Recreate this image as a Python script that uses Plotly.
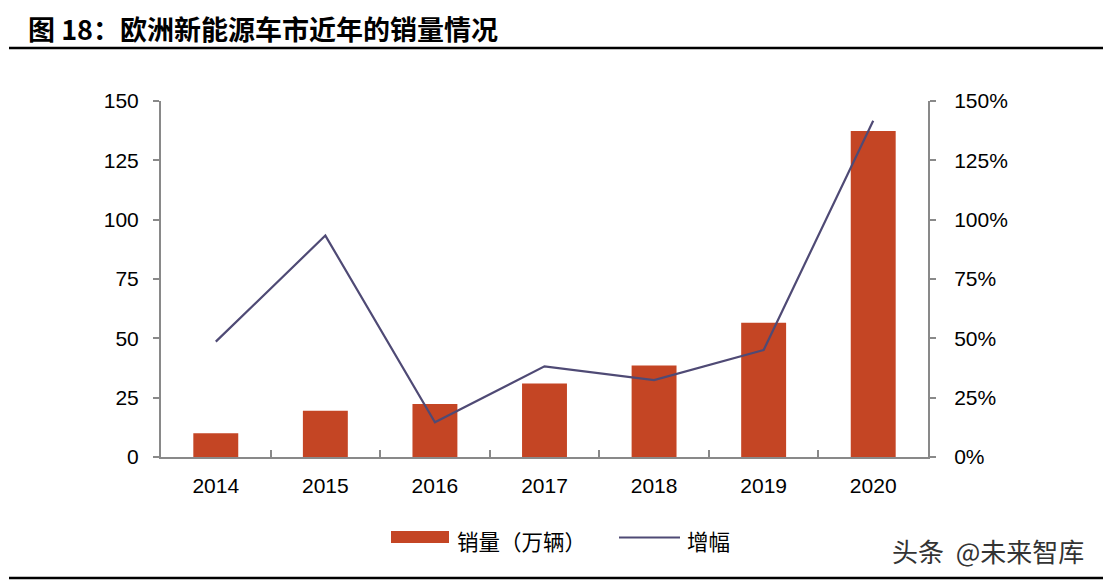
import plotly.graph_objects as go

years = ["2014", "2015", "2016", "2017", "2018", "2019", "2020"]
sales = [10.0, 19.5, 22.3, 31.0, 38.6, 56.6, 137.4]          # 销量（万辆）
growth = [0.486, 0.933, 0.146, 0.382, 0.324, 0.451, 1.417]   # 增幅

title_text = "图 18：欧洲新能源车市近年的销量情况"
bar_name = "销量（万辆）"
line_name = "增幅"
watermark = "头条&nbsp;&nbsp;@未来智库"

BAR_COLOR = "#c44524"
LINE_COLOR = "#4f4a75"
AXIS_COLOR = "#898989"
NUM_FONT = "Liberation Sans, Arial, sans-serif"
CJK_FONT = "Noto Sans CJK SC, sans-serif"

W, H = 1103, 582
L, R, T, B = 161, 175, 101, 125
PW, PH = W - L - R, H - T - B


def px(x):
    return (x - L) / PW


def py(y):
    return (H - B - y) / PH


fig = go.Figure()
fig.add_trace(go.Bar(x=years, y=sales, name=bar_name, marker=dict(color=BAR_COLOR, line=dict(width=0)),
                     yaxis="y", showlegend=False))
fig.add_trace(go.Scatter(x=years, y=growth, name=line_name, mode="lines",
                         line=dict(color=LINE_COLOR, width=2.2), yaxis="y2", showlegend=False))

fig.update_layout(
    width=W, height=H,
    margin=dict(l=L, r=R, t=T, b=B),
    paper_bgcolor="white", plot_bgcolor="white",
    bargap=0.59,
    xaxis=dict(type="category", showline=True, linecolor=AXIS_COLOR, linewidth=2,
               ticks="inside", tickson="boundaries", ticklen=7, tickwidth=2, tickcolor=AXIS_COLOR,
               showgrid=False, zeroline=False, ticklabelstandoff=9,
               tickfont=dict(family=NUM_FONT, size=21, color="#000")),
    yaxis=dict(range=[0, 150], dtick=25, tick0=0, showline=True, linecolor=AXIS_COLOR, linewidth=2,
               ticks="outside", ticklen=6, tickwidth=2, tickcolor=AXIS_COLOR,
               showgrid=False, zeroline=False, ticklabelstandoff=10,
               tickfont=dict(family=NUM_FONT, size=21, color="#000")),
    yaxis2=dict(range=[0, 1.5], dtick=0.25, tick0=0, tickformat=".0%", overlaying="y", side="right",
                showline=True, linecolor=AXIS_COLOR, linewidth=2,
                ticks="outside", ticklen=6, tickwidth=2, tickcolor=AXIS_COLOR,
                showgrid=False, zeroline=False, ticklabelstandoff=14,
                tickfont=dict(family=NUM_FONT, size=21, color="#000")),
)

shapes = [
    dict(type="line", xref="paper", yref="paper", x0=px(9), x1=px(1103), y0=py(48), y1=py(48),
         line=dict(color="#000", width=2.5)),
    dict(type="line", xref="paper", yref="paper", x0=px(9), x1=px(1103), y0=py(578), y1=py(578),
         line=dict(color="#000", width=2.5)),
    # legend swatches
    dict(type="rect", xref="paper", yref="paper", x0=px(391), x1=px(449), y0=py(543), y1=py(531),
         fillcolor=BAR_COLOR, line=dict(width=0)),
    dict(type="line", xref="paper", yref="paper", x0=px(619), x1=px(680), y0=py(537.5), y1=py(537.5),
         line=dict(color=LINE_COLOR, width=2.2)),
]
fig.update_layout(shapes=shapes)

annotations = [
    dict(text="<b>" + title_text + "</b>", xref="paper", yref="paper", x=px(26), y=py(29),
         xanchor="left", yanchor="middle", showarrow=False,
         font=dict(family=CJK_FONT, size=27, color="#000")),
    dict(text=bar_name, xref="paper", yref="paper", x=px(455), y=py(540),
         xanchor="left", yanchor="middle", showarrow=False,
         font=dict(family=CJK_FONT, size=21.5, color="#000")),
    dict(text=line_name, xref="paper", yref="paper", x=px(685), y=py(540),
         xanchor="left", yanchor="middle", showarrow=False,
         font=dict(family=CJK_FONT, size=21.5, color="#000")),
    dict(text=watermark, xref="paper", yref="paper", x=px(1086), y=py(550),
         xanchor="right", yanchor="middle", showarrow=False,
         font=dict(family=CJK_FONT, size=26, color="#333")),
]
fig.update_layout(annotations=annotations)

fig.write_html("out.html")
